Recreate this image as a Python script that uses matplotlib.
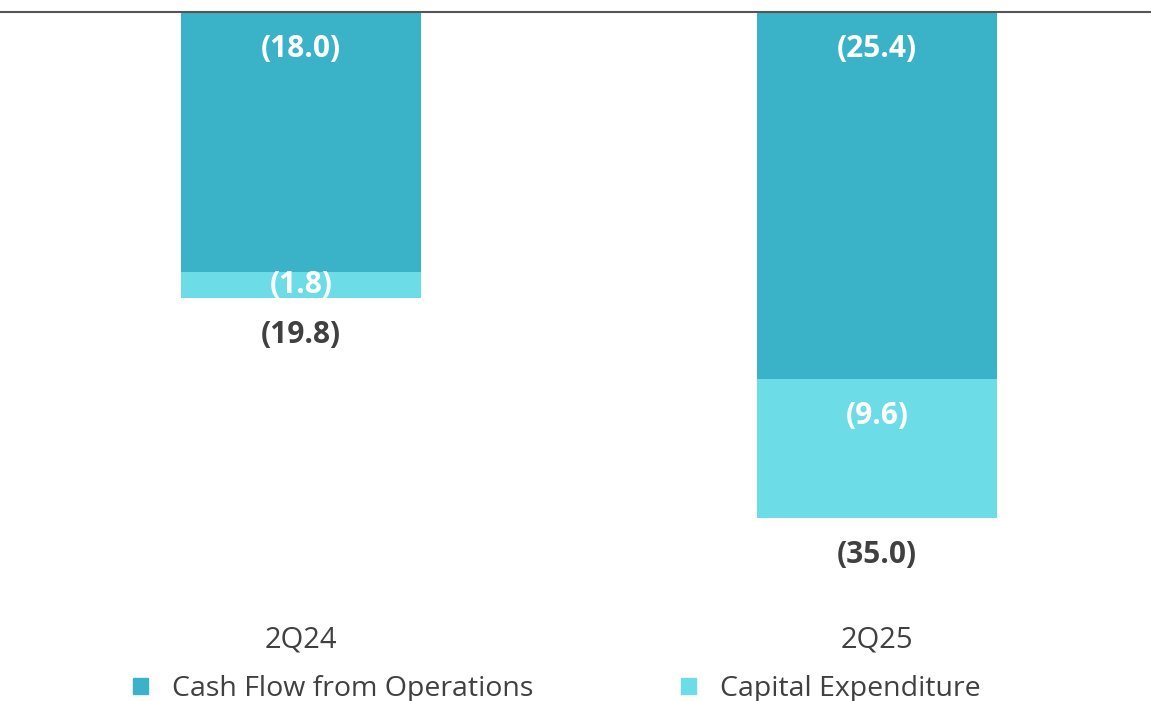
import numpy as np
import matplotlib.pyplot as plt
from matplotlib.patches import Patch

plt.rcParams['font.family'] = ['Open Sans', 'DejaVu Sans']

# data (millions, negative cash flows)
quarters = ["2Q24", "2Q25"]
cash_ops = [-18.0, -25.4]
capex = [-1.8, -9.6]
totals = [-19.8, -35.0]

dark = "#3AB3C9"
light = "#6CDDE6"
text_grey = "#404040"

W, H = 1151, 701
fig = plt.figure(figsize=(W / 100, H / 100), dpi=100)
# axes: top (zero line) at 12 px, bottom at 600 px
ax = fig.add_axes([0, (H - 600) / H, 1, 588 / H])

x = np.arange(len(quarters))
ax.bar(x, cash_ops, width=0.4167, color=dark, label="Cash Flow from Operations")
ax.bar(x, capex, bottom=cash_ops, width=0.4167, color=light, label="Capital Expenditure")

px_per_unit = 14.45
ax.set_xlim(-301 / 576, (W - 301) / 576)
ax.set_ylim(-588 / px_per_unit, 0)

offset = 37 / px_per_unit  # label distance from top of segment

def fmt(v):
    return "({:.1f})".format(abs(v))

for i in range(len(quarters)):
    # cash flow from operations label
    top = 0
    y = top - min(offset, abs(cash_ops[i]) / 2)
    ax.text(x[i], y, fmt(cash_ops[i]), ha="center", va="center",
            color="white", fontsize=21.5, fontweight="bold")
    # capex label
    top = cash_ops[i]
    y = top - min(offset, abs(capex[i]) / 2)
    ax.text(x[i], y, fmt(capex[i]), ha="center", va="center",
            color="white", fontsize=21.5, fontweight="bold")
    # total below bar
    ax.text(x[i], totals[i] - offset, fmt(totals[i]), ha="center", va="center",
            color=text_grey, fontsize=21.5, fontweight="bold")

ax.set_xticks(x)
ax.set_xticklabels(quarters, fontsize=21, color=text_grey)
ax.tick_params(axis="x", length=0, pad=18)
ax.set_yticks([])
for s in ["left", "right", "bottom"]:
    ax.spines[s].set_visible(False)
ax.spines["top"].set_color("#555555")
ax.spines["top"].set_linewidth(1.5)

handles = [Patch(color=dark), Patch(color=light)]
fig.legend(handles, ["Cash Flow from Operations", "Capital Expenditure"],
           loc="center left", bbox_to_anchor=(133 / W, 1 - 689 / H),
           ncol=2, frameon=False, fontsize=20.5, labelcolor=text_grey,
           handlelength=0.52, handleheight=0.52, handletextpad=0.85,
           columnspacing=5.2, borderaxespad=0, borderpad=0)

fig.savefig("out.png", dpi=100)
